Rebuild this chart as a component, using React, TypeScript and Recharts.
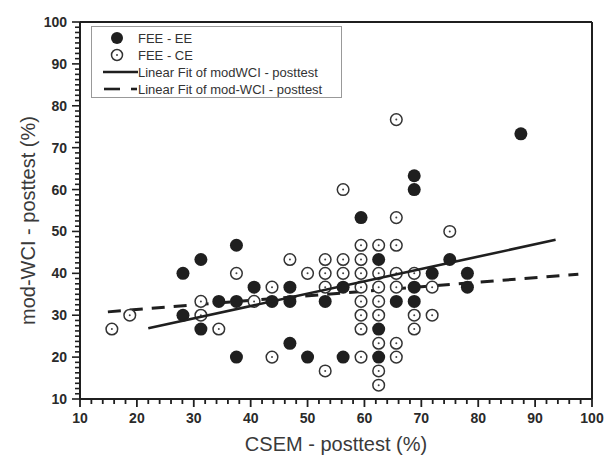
import { Legend, ReferenceLine, Scatter, ScatterChart, XAxis, YAxis } from 'recharts';

const ink = '#1f1f1f';
const font = '"Liberation Sans", Arial, sans-serif';

// FEE - EE (filled)
const eeCsem = [28.1, 28.1, 31.25, 31.25, 34.4, 37.5, 37.5, 37.5, 40.6, 43.75, 46.9, 46.9, 46.9, 50, 53.1, 56.25, 56.25, 59.4, 62.5, 62.5, 62.5, 65.6, 68.75, 68.75, 68.75, 68.75, 71.9, 75, 78.1, 78.1, 87.5];
const eeWci = [40, 30, 43.3, 26.7, 33.3, 46.7, 33.3, 20, 36.7, 33.3, 36.7, 33.3, 23.3, 20, 33.3, 36.7, 20, 53.3, 43.3, 26.7, 20, 33.3, 63.3, 60, 36.7, 33.3, 40, 43.3, 40, 36.7, 73.3];

// FEE - CE (open)
const ceCsem = [15.6, 18.75, 31.25, 31.25, 34.4, 37.5, 40.6, 43.75, 43.75, 46.9, 50, 53.1, 53.1, 53.1, 53.1, 56.25, 56.25, 56.25, 59.4, 59.4, 59.4, 59.4, 59.4, 59.4, 59.4, 59.4, 62.5, 62.5, 62.5, 62.5, 62.5, 62.5, 62.5, 62.5, 65.6, 65.6, 65.6, 65.6, 65.6, 65.6, 65.6, 68.75, 68.75, 68.75, 71.9, 71.9, 75];
const ceWci = [26.7, 30, 33.3, 30, 26.7, 40, 33.3, 36.7, 20, 43.3, 40, 43.3, 40, 36.7, 16.7, 60, 43.3, 40, 46.7, 43.3, 40, 36.7, 33.3, 30, 26.7, 20, 46.7, 40, 36.7, 33.3, 30, 23.3, 16.7, 13.3, 76.7, 53.3, 46.7, 40, 36.7, 23.3, 20, 40, 30, 26.7, 36.7, 30, 50];

// linear fit end points
const fitEeCsem = [22, 93.6];
const fitEeWci = [26.9, 48];
const fitCeCsem = [14.9, 97.6];
const fitCeWci = [30.8, 39.8];

const majorTicks = [10, 20, 30, 40, 50, 60, 70, 80, 90, 100];
const xTicks = Array.from({ length: 46 }, (_, i) => 10 + i * 2);
const yTicks = Array.from({ length: 73 }, (_, i) => 10 + i * 1.25);

const legendNames = ['FEE - EE', 'FEE - CE', 'Linear Fit of modWCI - posttest', 'Linear Fit of mod-WCI - posttest'];

const pairs = (xs: number[], ys: number[]) => xs.map((x, i) => ({ x, y: ys[i] }));

const isMajor = (v: number) => majorTicks.includes(Math.round(v * 100) / 100);

const renderXTick = (props: any) => {
  const { x, y, payload } = props;
  const major = isMajor(payload.value);
  return (
    <g key={'xt' + payload.value}>
      <line x1={x} y1={y} x2={x} y2={y + (major ? 8 : 5)} stroke={ink} strokeWidth={1.8} />
      {major && (
        <text x={x} y={y + 24} textAnchor="middle" fontSize={14} fontWeight={700} fill="#2a2a2a" style={{ fontFamily: font }}>
          {payload.value}
        </text>
      )}
    </g>
  );
};

const renderYTick = (props: any) => {
  const { x, y, payload } = props;
  const major = isMajor(payload.value);
  return (
    <g key={'yt' + payload.value}>
      <line x1={x} y1={y} x2={x - (major ? 8 : 5)} y2={y} stroke={ink} strokeWidth={1.6} />
      {major && (
        <text x={x - 13} y={y + 5} textAnchor="end" fontSize={14} fontWeight={700} fill="#2a2a2a" style={{ fontFamily: font }}>
          {payload.value}
        </text>
      )}
    </g>
  );
};

const renderYLabel = (props: any) => {
  const vb = props.viewBox;
  const cy = vb.y + vb.height / 2 + 10;
  return (
    <text x={28} y={cy} transform={`rotate(-90, 28, ${cy})`} textAnchor="middle" dominantBaseline="central" fontSize={20} fill="#3a3a3a" style={{ fontFamily: font }}>
      mod-WCI - posttest (%)
    </text>
  );
};

const FilledDot = (props: any) => <circle cx={props.cx} cy={props.cy} r={6.5} fill={ink} />;

const OpenDot = (props: any) => (
  <g>
    <circle cx={props.cx} cy={props.cy} r={5.8} fill="#fff" stroke="#333" strokeWidth={1.5} />
    <circle cx={props.cx} cy={props.cy} r={1} fill="#444" />
  </g>
);

const NoDot = () => <g />;

const LegendBox = () => (
  <svg width={251} height={72} style={{ display: 'block' }}>
    <rect x={0.5} y={0.5} width={250} height={71} fill="#fff" stroke="#999" strokeWidth={1} />
    <circle cx={26} cy={12} r={6} fill={ink} />
    <circle cx={26} cy={29} r={5.5} fill="#fff" stroke="#333" strokeWidth={1.5} />
    <circle cx={26} cy={29} r={1} fill="#444" />
    <line x1={12} y1={46} x2={47} y2={46} stroke={ink} strokeWidth={2.6} />
    <line x1={13} y1={63} x2={29} y2={63} stroke={ink} strokeWidth={2.6} />
    <line x1={40} y1={63} x2={46} y2={63} stroke={ink} strokeWidth={2.6} />
    {legendNames.map((n, i) => (
      <text key={n} x={47} y={17 + i * 17} fontSize={13} fill="#333" style={{ fontFamily: font }}>
        {n}
      </text>
    ))}
  </svg>
);

const App = () => {
  return (
    <div style={{ position: 'absolute', left: 0, top: 0, background: '#fff' }}>
      <ScatterChart width={605} height={457} margin={{ top: 22, right: 13, bottom: 0, left: 0 }}>
        <XAxis
          type="number"
          dataKey="x"
          domain={[10, 100]}
          ticks={xTicks}
          interval={0}
          tick={renderXTick}
          tickLine={false}
          tickSize={0}
          tickMargin={0}
          height={58}
          axisLine={{ stroke: ink, strokeWidth: 2 }}
          label={{ value: 'CSEM - posttest (%)', position: 'insideBottom', offset: 6, fontSize: 20, fill: '#3a3a3a', fontFamily: font }}
        />
        <YAxis
          type="number"
          dataKey="y"
          domain={[10, 100]}
          ticks={yTicks}
          interval={0}
          tick={renderYTick}
          tickLine={false}
          tickSize={0}
          tickMargin={0}
          width={80}
          axisLine={{ stroke: ink, strokeWidth: 2 }}
          label={{ value: 'mod-WCI - posttest (%)', content: renderYLabel }}
        />
        <ReferenceLine y={100} stroke={ink} strokeWidth={2} />
        <ReferenceLine x={100} stroke={ink} strokeWidth={2} />
        <Scatter name={legendNames[3]} data={pairs(fitCeCsem, fitCeWci)} shape={<NoDot />} line={{ stroke: ink, strokeWidth: 3, strokeDasharray: '13 9' }} lineType="joint" isAnimationActive={false} />
        <Scatter name={legendNames[1]} data={pairs(ceCsem, ceWci)} shape={<OpenDot />} isAnimationActive={false} />
        <Scatter name={legendNames[0]} data={pairs(eeCsem, eeWci)} shape={<FilledDot />} isAnimationActive={false} />
        <Scatter name={legendNames[2]} data={pairs(fitEeCsem, fitEeWci)} shape={<NoDot />} line={{ stroke: ink, strokeWidth: 2.6 }} lineType="joint" isAnimationActive={false} />
        <Legend
          layout="vertical"
          align="center"
          verticalAlign="middle"
          content={<LegendBox />}
          wrapperStyle={{ left: 91, top: 26, width: 251, height: 72 }}
        />
      </ScatterChart>
    </div>
  );
};

export default App;
